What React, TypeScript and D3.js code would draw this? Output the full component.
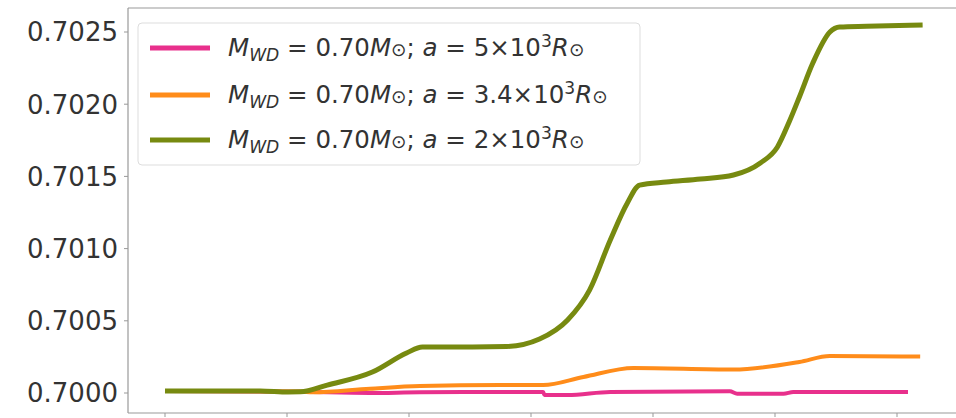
import React from "react";
import * as d3 from "d3";

// Data (x in tick units, y ratio values)
const pinkX = [0, 1.11, 1.68, 2.09, 3.1, 3.11, 3.3, 3.65, 4.63, 4.69, 5.07, 5.15, 6.09];
const pinkY = [0.700014, 0.700008, 0.7, 0.700005, 0.700007, 0.699986, 0.699986, 0.700007, 0.700012, 0.699995, 0.699995, 0.700007, 0.700007];

const orangeX = [0, 1.11, 1.21, 1.68, 2.09, 2.75, 3.1, 3.43, 3.84, 4.66, 5.2, 5.45, 6.19];
const orangeY = [0.700014, 0.70001, 0.700005, 0.70003, 0.700048, 0.700055, 0.700055, 0.700111, 0.700173, 0.700162, 0.700215, 0.700256, 0.700252];

const greenX = [0, 0.78, 1.01, 1.11, 1.33, 1.7, 1.98, 2.11, 2.52, 2.8, 3.07, 3.3, 3.48, 3.65, 3.79, 3.89, 4.11, 4.39, 4.66, 4.88, 5.02, 5.12, 5.2, 5.31, 5.45, 5.53, 5.75, 6.21];
const greenY = [0.700014, 0.700014, 0.700007, 0.700008, 0.700055, 0.700145, 0.700277, 0.700319, 0.700319, 0.700322, 0.700374, 0.700506, 0.700713, 0.70106, 0.701316, 0.70144, 0.701461, 0.701482, 0.70151, 0.701593, 0.701704, 0.701885, 0.70205, 0.702285, 0.7025, 0.702535, 0.70254, 0.702548];

const yTicks = [0.7, 0.7005, 0.701, 0.7015, 0.702, 0.7025];
const xTicks = [0, 1, 2, 3, 4, 5, 6];

const massLabel = "0.70";
const aLabels = ["5", "3.4", "2"];
const colors = ["#e8308c", "#ff8c1a", "#778a10"];

export default function App() {
  const W = 956, H = 418;
  const left = 128, top = 8, bottom = 413;
  const x = d3.scaleLinear().domain([0, 6]).range([165, 897]);
  const y = d3.scaleLinear().domain([0.7, 0.7025]).range([393, 32]);
  const line = d3
    .line<[number, number]>()
    .x((d) => x(d[0]))
    .y((d) => y(d[1]))
    .curve(d3.curveMonotoneX);

  const series = [
    { xs: pinkX, ys: pinkY, w: 4 },
    { xs: orangeX, ys: orangeY, w: 4 },
    { xs: greenX, ys: greenY, w: 5 },
  ];

  const font = "DejaVu Sans";
  const fs = 24.5;
  const legendRows = [48, 95, 140];

  return (
    <svg
      width={W}
      height={H}
      style={{ position: "absolute", left: 0, top: 0, background: "#fff" }}
      fontFamily={font}
    >
      <rect x={0} y={0} width={W} height={H} fill="#fff" />
      {/* spines */}
      <line x1={left} x2={W} y1={top} y2={top} stroke="#999" strokeWidth={1.2} />
      <line x1={left} x2={left} y1={top} y2={bottom} stroke="#999" strokeWidth={1.2} />
      <line x1={left} x2={W} y1={bottom} y2={bottom} stroke="#999" strokeWidth={1.2} />
      {/* y ticks */}
      {yTicks.map((t) => (
        <g key={t}>
          <line x1={left - 4} x2={left} y1={y(t)} y2={y(t)} stroke="#999" strokeWidth={1} />
          <text x={118} y={y(t)} dy="0.36em" textAnchor="end" fontSize={26} fill="#333">
            {t.toFixed(4)}
          </text>
        </g>
      ))}
      {/* x ticks */}
      {xTicks.map((t) => (
        <line key={t} x1={x(t)} x2={x(t)} y1={bottom} y2={bottom + 4} stroke="#999" strokeWidth={1} />
      ))}
      {/* lines */}
      {series.map((s, i) => (
        <path
          key={i}
          d={line(s.xs.map((v, j) => [v, s.ys[j]] as [number, number])) || ""}
          fill="none"
          stroke={colors[i]}
          strokeWidth={s.w}
          strokeLinejoin="round"
        />
      ))}
      {/* legend */}
      <rect x={138} y={23} width={502} height={142} rx={4} fill="#fff" fillOpacity={0.85} stroke="#ddd" strokeWidth={1} />
      {aLabels.map((a, i) => {
        const cy = legendRows[i];
        return (
          <g key={a}>
            <line x1={150} x2={210} y1={cy} y2={cy} stroke={colors[i]} strokeWidth={5} />
            <text x={228} y={cy + 8} fontSize={fs} fill="#333">
              <tspan fontStyle="italic">M</tspan>
              <tspan fontStyle="italic" fontSize={fs * 0.7} dy={5}>WD</tspan>
              <tspan dy={-5}>{" = " + massLabel}</tspan>
              <tspan fontStyle="italic">M</tspan>
              <tspan fontSize={fs * 0.75}>⊙</tspan>
              <tspan>{"; "}</tspan>
              <tspan fontStyle="italic">a</tspan>
              <tspan>{" = " + a + "×10"}</tspan>
              <tspan fontSize={fs * 0.7} dy={-9}>3</tspan>
              <tspan fontStyle="italic" dy={9}>R</tspan>
              <tspan fontSize={fs * 0.75}>⊙</tspan>
            </text>
          </g>
        );
      })}
    </svg>
  );
}
